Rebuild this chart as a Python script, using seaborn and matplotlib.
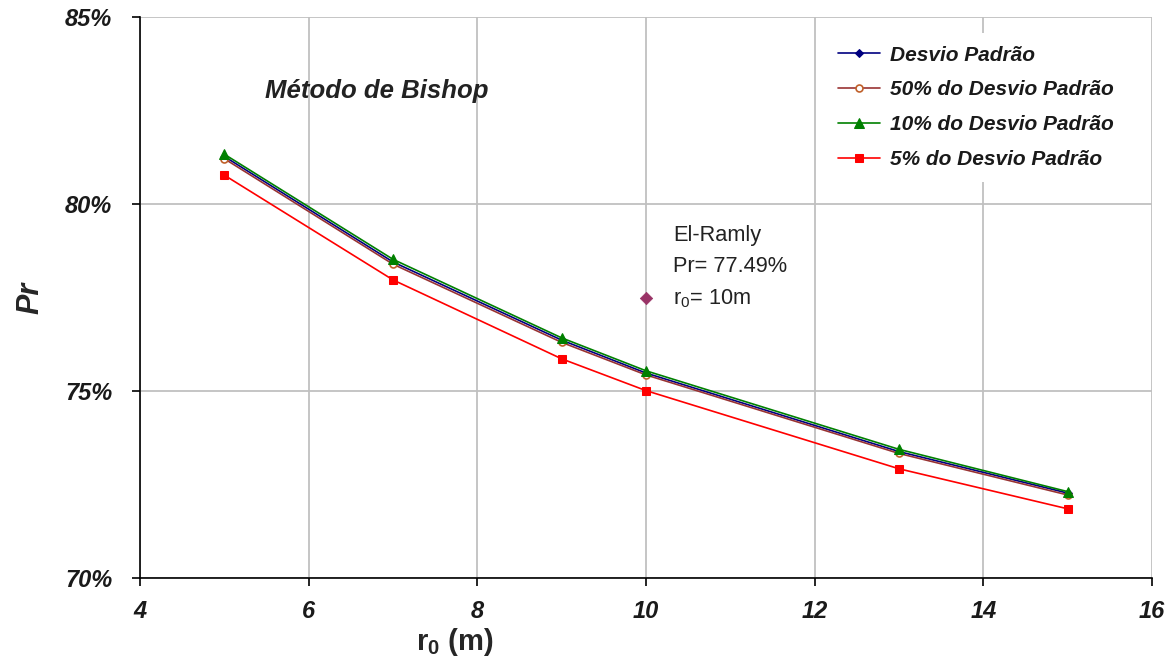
import seaborn as sns
import numpy as np
import pandas as pd
import matplotlib.pyplot as plt
from matplotlib.ticker import FuncFormatter

# values (Pr in %)
r0 = [5, 7, 9, 10, 13, 15]
pr_dp = [81.27, 78.45, 76.36, 75.48, 73.38, 72.27]
pr_50 = [81.21, 78.39, 76.30, 75.43, 73.33, 72.22]
pr_10 = [81.33, 78.52, 76.42, 75.54, 73.44, 72.31]
pr_5 = [80.77, 77.97, 75.86, 75.01, 72.92, 71.85]

ramly_r0 = [10]
ramly_pr = [77.49]

labels = ['Desvio Padrão', '50% do Desvio Padrão',
          '10% do Desvio Padrão', '5% do Desvio Padrão']

sns.set_style('white')
plt.rcParams['font.family'] = ['Liberation Sans', 'DejaVu Sans']
plt.rcParams['mathtext.fontset'] = 'custom'
plt.rcParams['mathtext.rm'] = 'Liberation Sans'
plt.rcParams['mathtext.it'] = 'Liberation Sans:italic'
plt.rcParams['mathtext.bf'] = 'Liberation Sans:bold'

fig = plt.figure(figsize=(11.74, 6.69), dpi=100)
ax = fig.add_axes([0.1193, 0.136, 0.862, 0.8386])

df = pd.DataFrame({'r0': r0, 'dp': pr_dp, 'p50': pr_50, 'p10': pr_10, 'p5': pr_5})

sns.lineplot(data=df, x='r0', y='dp', ax=ax, color='#000080', lw=1.2,
             marker='D', markersize=4.5, markeredgecolor='#000080', label=labels[0])
sns.lineplot(data=df, x='r0', y='p50', ax=ax, color='#993333', lw=1.2,
             marker='o', markersize=5, markerfacecolor='white',
             markeredgecolor='#c0602a', markeredgewidth=1.2, label=labels[1])
sns.lineplot(data=df, x='r0', y='p10', ax=ax, color='#008000', lw=1.2,
             marker='^', markersize=7.5, markeredgecolor='#008000', label=labels[2])
sns.lineplot(data=df, x='r0', y='p5', ax=ax, color='#ff0000', lw=1.2,
             marker='s', markersize=6, markeredgecolor='#ff0000', label=labels[3])

sns.scatterplot(x=ramly_r0, y=ramly_pr, ax=ax, marker='D', s=40,
                color='#993366', edgecolor='#993366', zorder=5)

ax.text(10.32, 78.3, 'El-Ramly\nPr= 77.49%\nr$_0$= 10m', fontsize=15.7,
        color='#222222', va='center', ha='left', linespacing=1.6,
        bbox=dict(facecolor='white', edgecolor='none', pad=6))

ax.text(5.48, 82.83, 'Método de Bishop', fontsize=18.5, fontweight='bold',
        style='italic', color='#222222')

ax.set_xlim(4, 16)
ax.set_ylim(70, 85)
ax.set_xticks([4, 6, 8, 10, 12, 14, 16])
ax.set_yticks([70, 75, 80, 85])
ax.yaxis.set_major_formatter(FuncFormatter(lambda v, p: f'{v:.0f}%'))

ax.grid(True, color='#c0c0c0', lw=1.3)
ax.set_axisbelow(True)
for s in ['top', 'right']:
    ax.spines[s].set_visible(False)
for s in ['left', 'bottom']:
    ax.spines[s].set_color('black')
    ax.spines[s].set_linewidth(1.2)

ax.tick_params(left=True, bottom=True, direction='out', length=6, width=1.2,
               color='black')
ax.tick_params(axis='y', pad=14)
ax.tick_params(axis='x', pad=10)
for t in ax.get_xticklabels() + ax.get_yticklabels():
    t.set_fontsize(17)
    t.set_fontweight('bold')
    t.set_style('italic')
    t.set_color('#1a1a1a')

ax.set_xlabel(r'$\mathbf{r}_\mathbf{0}$ (m)', fontsize=21, fontweight='bold',
              va='center')
ax.xaxis.set_label_coords(0.311, -0.114)
ax.set_ylabel('Pr', fontsize=22, fontweight='bold', style='italic', va='center')
ax.yaxis.set_label_coords(-0.108, 0.5)

leg = ax.legend(loc='upper right', bbox_to_anchor=(0.985, 0.99),
                frameon=True, framealpha=1, edgecolor='none', facecolor='white',
                handlelength=2.0, handletextpad=0.5, labelspacing=0.76,
                borderpad=0.6,
                prop={'weight': 'bold', 'style': 'italic', 'size': 15})
leg.get_frame().set_linewidth(0)
for t in leg.get_texts():
    t.set_color('#1a1a1a')

fig.savefig('out.png', dpi=100)
